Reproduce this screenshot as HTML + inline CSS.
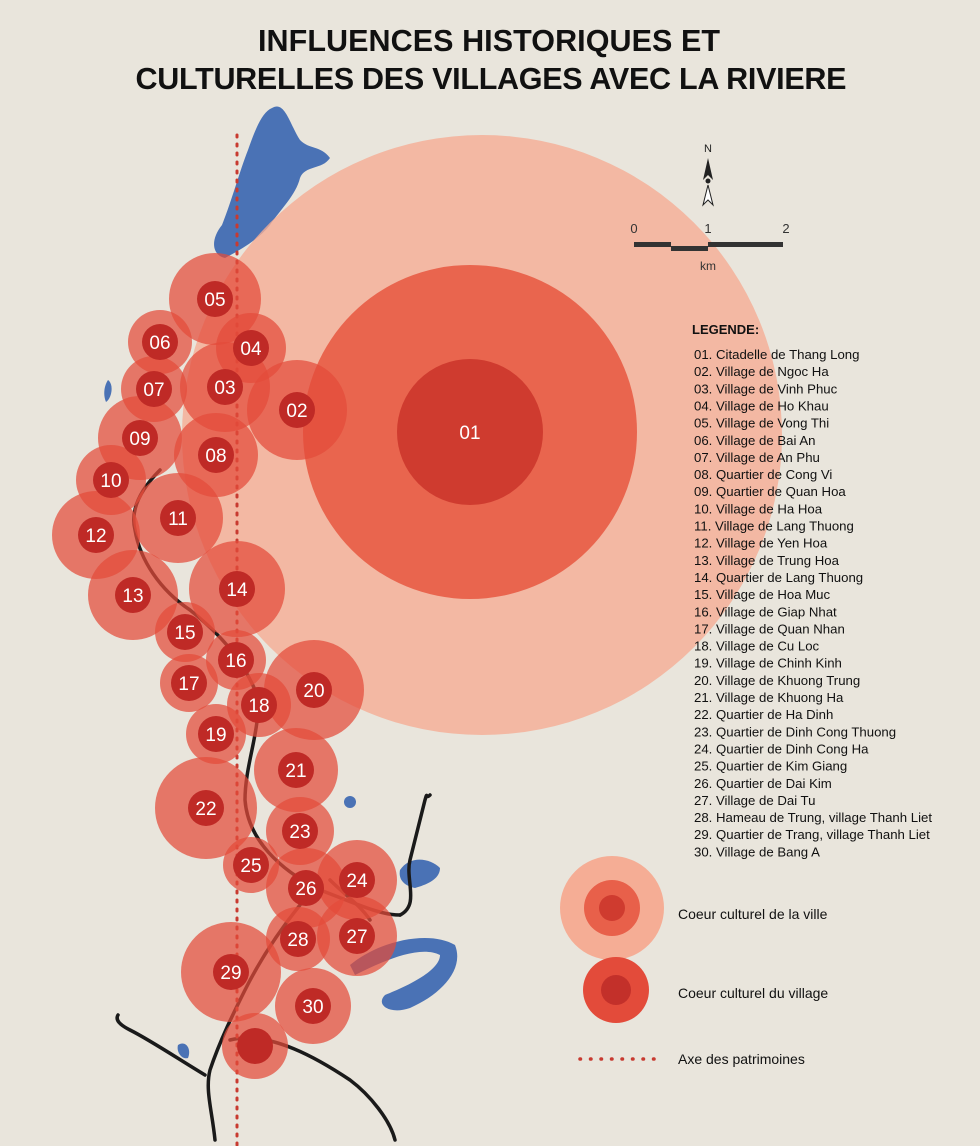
<!DOCTYPE html>
<html><head><meta charset="utf-8">
<style>
body{margin:0;background:#e9e5dc;}
svg{display:block}
text{font-family:"Liberation Sans",sans-serif}
</style></head>
<body>
<svg id="map" width="980" height="1146" viewBox="0 0 980 1146">
<rect width="980" height="1146" fill="#e9e5dc"/>
<text x="489" y="51" text-anchor="middle" font-size="30.5" font-weight="bold" fill="#111" textLength="462">INFLUENCES HISTORIQUES ET</text>
<text x="491" y="89" text-anchor="middle" font-size="30.5" font-weight="bold" fill="#111" textLength="711">CULTURELLES DES VILLAGES AVEC LA RIVIERE</text>
<g id="water" fill="#4a72b5">
<path d="M272,108 C285,100 290,125 300,140 C310,150 320,145 330,158 C322,170 305,165 300,178 C296,195 280,210 270,225 C258,240 240,250 225,258 C212,255 210,240 222,225 C232,200 240,170 248,150 C255,130 262,112 272,108Z"/>
<path d="M400,870 C410,855 430,858 440,868 C440,880 425,885 415,888 C405,886 398,880 400,870Z"/>
<circle cx="350" cy="802" r="6"/>
<path d="M350,965 C380,940 430,930 455,945 C465,970 440,995 410,1008 C390,1015 375,1005 385,995 C410,985 440,970 440,955 C420,945 385,960 355,975Z"/>
<path d="M178,1045 C185,1040 192,1048 188,1058 C182,1060 176,1052 178,1045Z"/>
<path d="M108,380 C114,384 112,398 106,402 C103,395 104,386 108,380Z"/>
</g>
<g id="rivers" fill="none" stroke="#1a1a1a" stroke-width="3.5" stroke-linecap="round">
<path d="M160,470 C140,490 130,510 135,530 C140,560 160,590 190,610 C215,630 240,655 255,690 C265,720 245,760 245,800 C248,840 280,870 320,890 C360,905 380,915 400,915"/>
<path d="M400,915 C420,905 405,880 410,860 C415,840 420,820 425,800 C428,790 425,800 430,795"/>
<path d="M330,880 C345,895 360,905 370,920"/>
<path d="M300,905 C280,930 260,960 245,990 C235,1010 220,1040 210,1070 C205,1090 212,1110 215,1140"/>
<path d="M205,1075 C180,1060 150,1040 130,1030 C120,1025 115,1020 118,1015"/>
<path d="M230,1040 C270,1030 320,1060 350,1080 C370,1095 390,1120 395,1140"/>
</g>
<circle cx="482" cy="435" r="300" fill="#f5ad95" opacity="0.8"/>
<circle cx="470" cy="432" r="167" fill="#e8604a" opacity="0.95"/>
<circle cx="470" cy="432" r="73" fill="#cf3b2f"/>
<text x="470" y="439" text-anchor="middle" font-size="19" fill="#fff">01</text>
<line x1="237" y1="135" x2="237" y2="1146" stroke="#c83a30" stroke-width="3" stroke-dasharray="2,7" stroke-linecap="round"/>
<g id="villages"></g>
<g>
<text x="708" y="152" text-anchor="middle" font-size="11" font-family="Liberation Mono" fill="#222">N</text>
<path d="M708,158 L703,180 L708,175 L713,180Z" fill="#222"/>
<path d="M708,185 L703,205 L708,200 L713,205Z" fill="#fff" stroke="#222"/>
<circle cx="708" cy="181" r="2.5" fill="#222"/>
</g>
<g>
<rect x="634" y="242" width="37" height="5" fill="#333"/>
<rect x="671" y="246" width="37" height="5" fill="#333"/>
<rect x="708" y="242" width="75" height="5" fill="#333"/>
<text x="634" y="233" text-anchor="middle" font-size="13" font-family="Liberation Mono" fill="#333">0</text>
<text x="708" y="233" text-anchor="middle" font-size="13" font-family="Liberation Mono" fill="#333">1</text>
<text x="786" y="233" text-anchor="middle" font-size="13" font-family="Liberation Mono" fill="#333">2</text>
<text x="708" y="270" text-anchor="middle" font-size="12" font-family="Liberation Mono" fill="#333">km</text>
</g>
<text x="692" y="334" font-size="13" font-weight="bold" fill="#111">LEGENDE:</text>
<g id="legend-list"></g>
<g>
<circle cx="612" cy="908" r="52" fill="#f5ad95"/>
<circle cx="612" cy="908" r="28" fill="#e8604a"/>
<circle cx="612" cy="908" r="13" fill="#cf3b2f"/>
</g>
<text x="678" y="919" font-size="14" fill="#111">Coeur culturel de la ville</text>
<g>
<circle cx="616" cy="990" r="33" fill="#e34b3a"/>
<circle cx="616" cy="990" r="15" fill="#c3302a"/>
</g>
<text x="678" y="998" font-size="14" fill="#111">Coeur culturel du village</text>
<line x1="580" y1="1059" x2="655" y2="1059" stroke="#c83a30" stroke-width="3.5" stroke-dasharray="0.5,10" stroke-linecap="round"/>
<text x="678" y="1064" font-size="14" fill="#111">Axe des patrimoines</text>
</svg>
<script>
const labels=["05","04","06","07","03","02","09","08","10","11","12","13","14","15","16","17","18","20","19","21","22","23","25","24","26","27","28","29","30",""];
const xs=[215,251,160,154,225,297,140,216,111,178,96,133,237,185,236,189,259,314,216,296,206,300,251,357,306,357,298,231,313,255];
const ys=[299,348,342,389,387,410,438,455,480,518,535,595,589,632,660,683,705,690,734,770,808,831,865,880,888,936,939,972,1006,1046];
const radii=[46,35,32,33,45,50,42,42,35,45,44,45,48,30,30,29,32,50,30,42,51,34,28,40,40,40,32,50,38,33];
const legendItems=["01. Citadelle de Thang Long","02. Village de Ngoc Ha","03. Village de Vinh Phuc","04. Village de Ho Khau","05. Village de Vong Thi","06. Village de Bai An","07. Village de An Phu","08. Quartier de Cong Vi","09. Quartier de Quan Hoa","10. Village de Ha Hoa","11. Village de Lang Thuong","12. Village de Yen Hoa","13. Village de Trung Hoa","14. Quartier de Lang Thuong","15. Village de Hoa Muc","16. Village de Giap Nhat","17. Village de Quan Nhan","18. Village de Cu Loc","19. Village de Chinh Kinh","20. Village de Khuong Trung","21. Village de Khuong Ha","22. Quartier de Ha Dinh","23. Quartier de  Dinh Cong Thuong","24. Quartier de  Dinh Cong Ha","25. Quartier de  Kim Giang","26. Quartier de  Dai Kim","27. Village de Dai Tu","28. Hameau de Trung, village Thanh Liet","29. Quartier de Trang, village Thanh Liet","30. Village de Bang A"];
const NS="http://www.w3.org/2000/svg";
const g=document.getElementById('villages');
for(let i=0;i<labels.length;i++){
  const o=document.createElementNS(NS,'circle');
  o.setAttribute('cx',xs[i]);o.setAttribute('cy',ys[i]);o.setAttribute('r',radii[i]);
  o.setAttribute('fill','#e34b3a');o.setAttribute('opacity','0.72');
  
  
  g.appendChild(o);
}
for(let i=0;i<labels.length;i++){
  const c=document.createElementNS(NS,'circle');
  c.setAttribute('cx',xs[i]);c.setAttribute('cy',ys[i]);c.setAttribute('r',18);
  c.setAttribute('fill','#bf2a26');
  
  
  g.appendChild(c);
  if(labels[i]){
    const t=document.createElementNS(NS,'text');
    t.setAttribute('x',xs[i]);t.setAttribute('y',ys[i]+7);
    t.setAttribute('text-anchor','middle');t.setAttribute('font-size','19');t.setAttribute('fill','#fff');
    t.textContent=labels[i];
    
    
    g.appendChild(t);
  }
}
const lg=document.getElementById('legend-list');
legendItems.forEach((s,i)=>{
  const t=document.createElementNS(NS,'text');
  t.setAttribute('x',694);t.setAttribute('y',359+i*17.15);
  t.setAttribute('font-size','13.2');t.setAttribute('fill','#111');
  t.setAttribute('xml:space','preserve');
  t.textContent=s;
  
  
  lg.appendChild(t);
});
</script>
</body></html>
